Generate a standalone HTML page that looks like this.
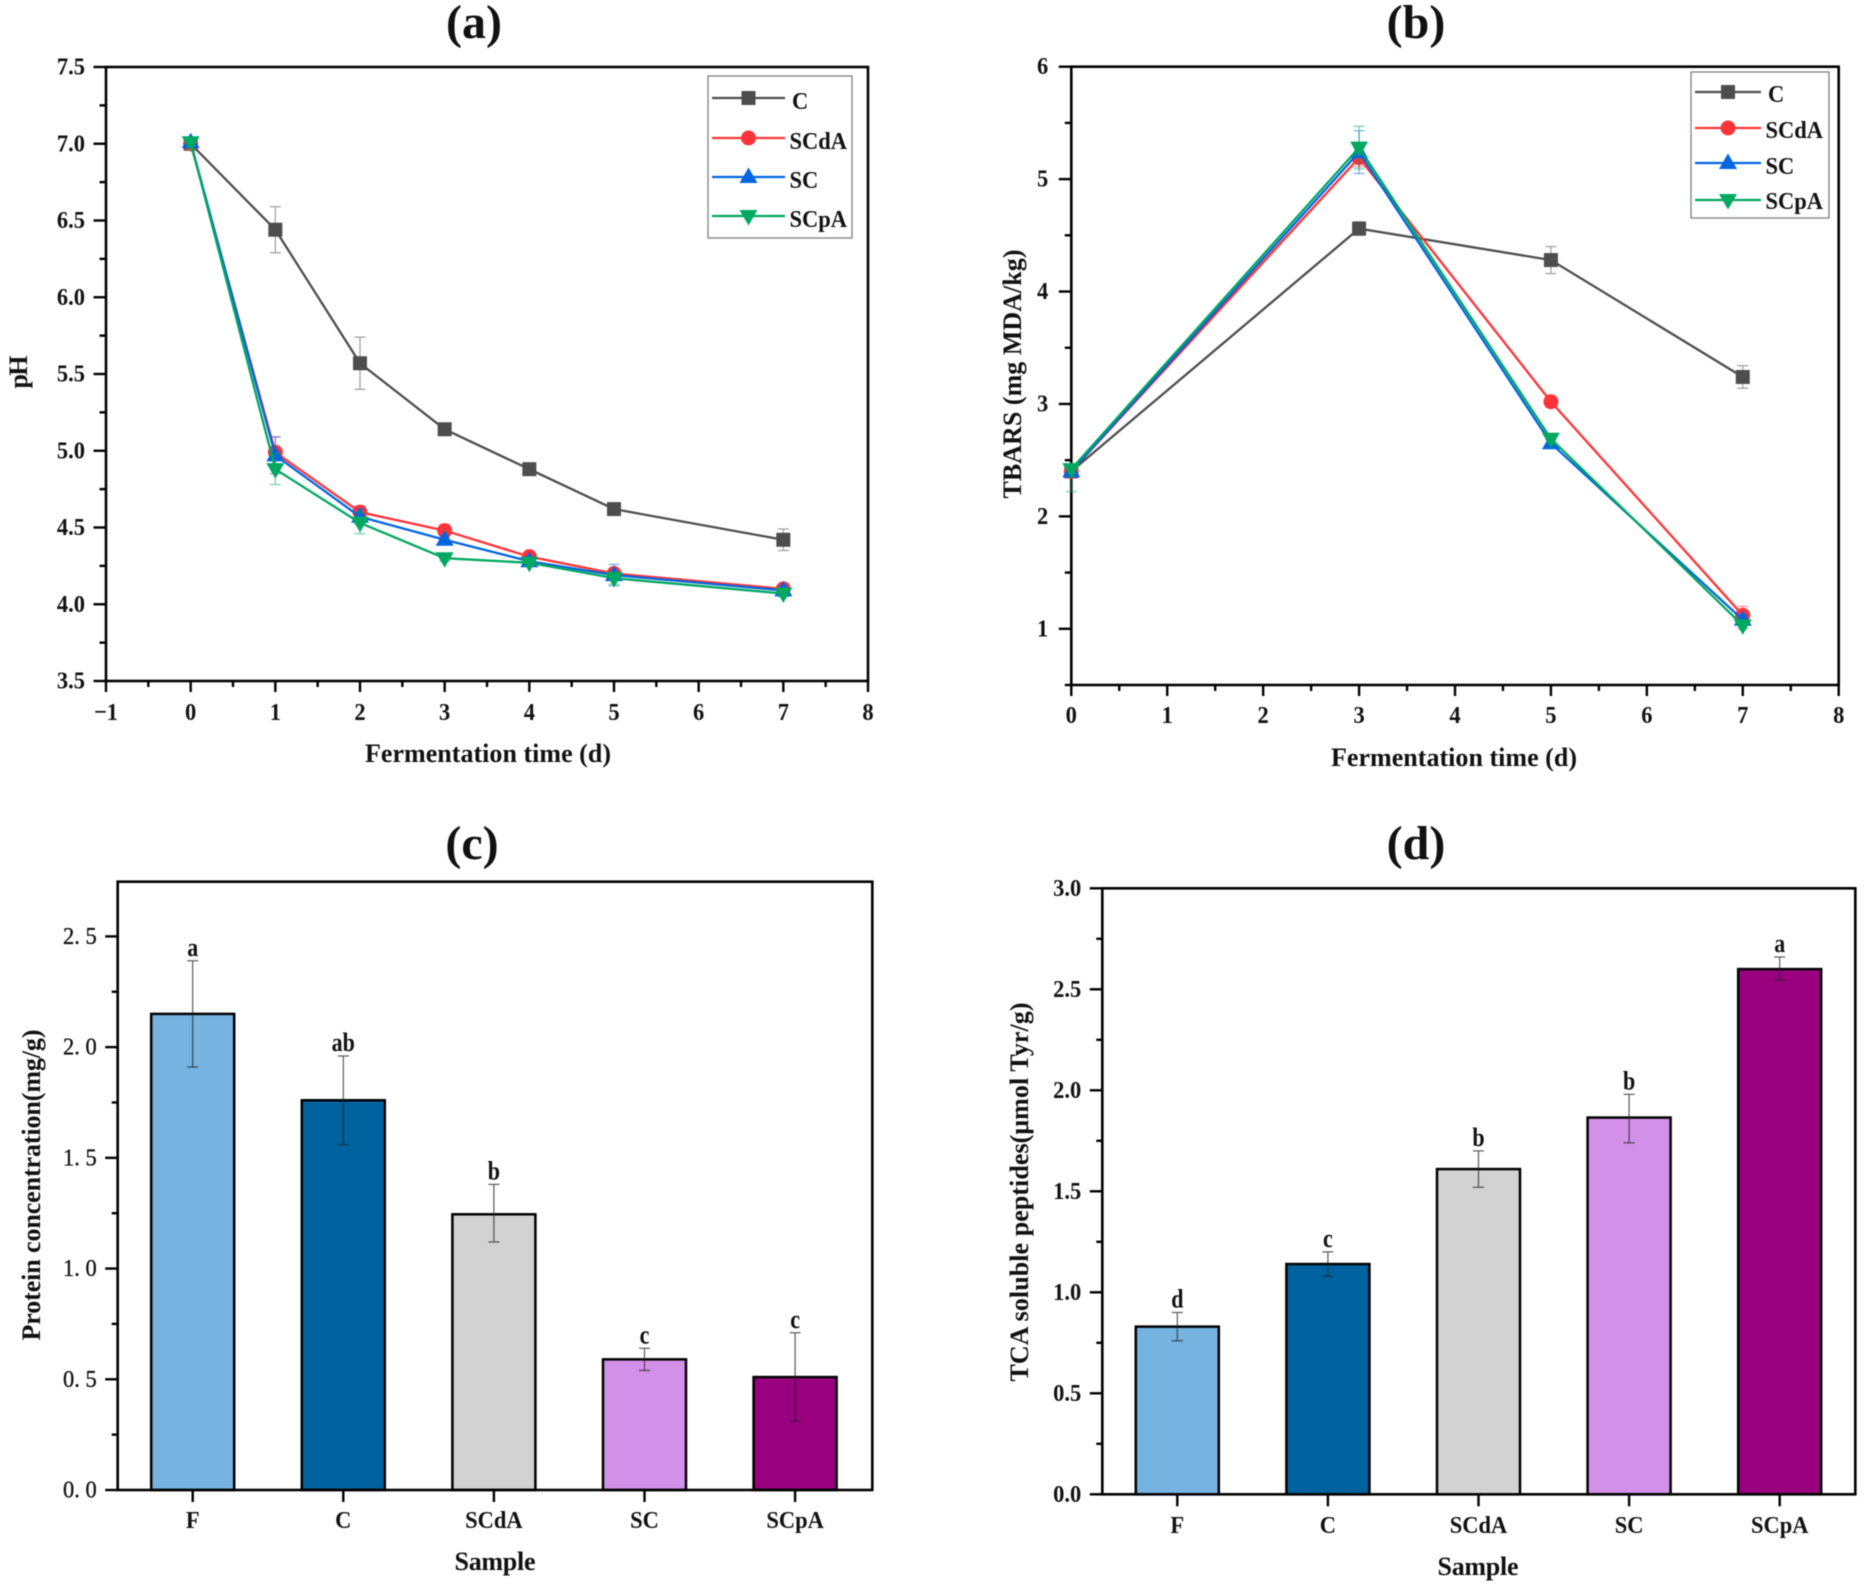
<!DOCTYPE html>
<html lang="en">
<head>
<meta charset="utf-8">
<title>Fermentation charts</title>
<style>
html,body{margin:0;padding:0;background:#fff;}
#figure{display:block;width:1867px;height:1588px;filter:blur(0.45px);}
text{font-family:"Liberation Serif",serif;font-weight:700;fill:#111;}
</style>
</head>
<body>
<svg id="figure" xmlns="http://www.w3.org/2000/svg" width="1867" height="1588" viewBox="0 0 1867 1588"></svg>
<script>
// ---------- Panel (a) data ----------
const daysA = [0, 1, 2, 3, 4, 5, 7];
const phC = [7.0, 6.44, 5.57, 5.14, 4.88, 4.62, 4.42];
const phSCdA = [7.0, 4.99, 4.6, 4.48, 4.31, 4.2, 4.1];
const phSC = [7.01, 4.97, 4.57, 4.42, 4.28, 4.19, 4.09];
const phSCpA = [7.01, 4.88, 4.53, 4.3, 4.27, 4.17, 4.07];
const phErrC = [0.02, 0.15, 0.17, 0.02, 0.02, 0.02, 0.07];
const phErrSCdA = [0.02, 0.1, 0.04, 0.04, 0.03, 0.03, 0.02];
const phErrSC = [0.03, 0.12, 0.05, 0.03, 0.03, 0.07, 0.03];
const phErrSCpA = [0.01, 0.1, 0.07, 0.02, 0.02, 0.04, 0.02];
const phXTicks = ["\u22121", "0", "1", "2", "3", "4", "5", "6", "7", "8"];
const phYTicks = ["3.5", "4.0", "4.5", "5.0", "5.5", "6.0", "6.5", "7.0", "7.5"];

// ---------- Panel (b) data ----------
const daysB = [0, 3, 5, 7];
const tbarsC = [2.4, 4.56, 4.28, 3.24];
const tbarsSCdA = [2.4, 5.19, 3.02, 1.12];
const tbarsSC = [2.4, 5.24, 2.65, 1.08];
const tbarsSCpA = [2.42, 5.28, 2.69, 1.03];
const tbarsErrC = [0.02, 0.06, 0.12, 0.1];
const tbarsErrSCdA = [0.05, 0.08, 0.05, 0.08];
const tbarsErrSC = [0.05, 0.19, 0.03, 0.04];
const tbarsErrUpSCpA = [0.02, 0.19, 0.03, 0.03];
const tbarsErrDownSCpA = [0.2, 0.19, 0.03, 0.03];
const tbarsXTicks = ["0", "1", "2", "3", "4", "5", "6", "7", "8"];
const tbarsYTicks = ["1", "2", "3", "4", "5", "6"];

// ---------- Panels (c) and (d) data ----------
const samples = ["F", "C", "SCdA", "SC", "SCpA"];
const proteinValues = [2.15, 1.76, 1.245, 0.59, 0.51];
const proteinErrUp = [0.24, 0.2, 0.135, 0.05, 0.2];
const proteinErrDown = [0.24, 0.2, 0.125, 0.05, 0.2];
const proteinLetters = ["a", "ab", "b", "c", "c"];
const proteinYTicks = ["0. 0", "0. 5", "1. 0", "1. 5", "2. 0", "2. 5"];
const tcaValues = [0.83, 1.14, 1.61, 1.865, 2.6];
const tcaErrUp = [0.07, 0.06, 0.09, 0.115, 0.06];
const tcaErrDown = [0.07, 0.06, 0.09, 0.125, 0.055];
const tcaLetters = ["d", "c", "b", "b", "a"];
const tcaYTicks = ["0.0", "0.5", "1.0", "1.5", "2.0", "2.5", "3.0"];
const barColors = ["#76b3e0", "#00639f", "#d2d2d2", "#d290e8", "#990080"];
const seriesNames = ["C", "SCdA", "SC", "SCpA"];
const seriesColors = ["#4d4d4d", "#ff3338", "#0066e0", "#00a860"];

const NS = "http://www.w3.org/2000/svg";
const root = document.getElementById("figure");

function make(tag, attrs, name, parent) {
  const el = document.createElementNS(NS, tag);
  for (const k in attrs) el.setAttribute(k, attrs[k]);
  
  
  (parent || root).appendChild(el);
  return el;
}
function line(x1, y1, x2, y2, stroke, w, name, parent, extra) {
  return make("line", Object.assign({x1, y1, x2, y2, stroke, "stroke-width": w}, extra || {}), name, parent);
}
function label(x, y, str, size, anchor, name, parent, opt) {
  opt = opt || {};
  const sy = opt.sy || 1.1;
  const attrs = {transform: "translate(" + x + "," + y + ") scale(1," + sy + ")", "font-size": size, "text-anchor": anchor};
  if (opt.len) { attrs.textLength = opt.len; attrs.lengthAdjust = "spacing"; }
  if (opt.weight) attrs.style = "font-weight:" + opt.weight + ";stroke:#111;stroke-width:0.3px";
  const t = make("text", attrs, name, parent);
  t.textContent = str;
  return t;
}
function vLabel(x, y, str, size, len, name, parent) {
  const t = make("text", {transform: "translate(" + x + "," + y + ") rotate(-90)", "font-size": size, "text-anchor": "middle", textLength: len, lengthAdjust: "spacing"}, name, parent);
  t.textContent = str;
  return t;
}
function frame(box, g) {
  make("rect", {x: box.l, y: box.t, width: box.r - box.l, height: box.b - box.t, fill: "none", stroke: "#000", "stroke-width": 2.6}, "plot-frame", g);
}
function marker(kind, x, y, color, name, parent) {
  if (kind === 0) return make("rect", {x: x - 7, y: y - 7, width: 14, height: 14, fill: color}, name, parent);
  if (kind === 1) return make("circle", {cx: x, cy: y, r: 7.5, fill: color}, name, parent);
  if (kind === 2) return make("polygon", {points: (x) + "," + (y - 9.5) + " " + (x + 9) + "," + (y + 6) + " " + (x - 9) + "," + (y + 6), fill: color}, name, parent);
  return make("polygon", {points: (x) + "," + (y + 9.5) + " " + (x + 9) + "," + (y - 6) + " " + (x - 9) + "," + (y - 6), fill: color}, name, parent);
}
function errorBar(x, yTop, yBottom, color, name, parent) {
  const g = make("g", {opacity: 0.55}, name, parent);
  line(x, yTop, x, yBottom, color, 1.2, "error-stem", g);
  line(x - 5.5, yTop, x + 5.5, yTop, color, 1.2, "error-cap-top", g);
  line(x - 5.5, yBottom, x + 5.5, yBottom, color, 1.2, "error-cap-bottom", g);
}

function linePanel(cfg) {
  const g = make("g", {}, cfg.name, root);
  const b = cfg.box;
  const xs = v => b.l + (v - cfg.xMin) / (cfg.xMax - cfg.xMin) * (b.r - b.l);
  const ys = v => b.b - (v - cfg.yMin) / (cfg.yMax - cfg.yMin) * (b.b - b.t);
  frame(b, g);
  cfg.xTicks.forEach((txt, i) => {
    const x = xs(cfg.xMin + i);
    line(x, b.b, x, b.b + 11, "#000", 2.4, "x-tick", g);
    if (i < cfg.xTicks.length - 1) line(x + (xs(1) - xs(0)) / 2, b.b, x + (xs(1) - xs(0)) / 2, b.b + 6, "#000", 2.4, "x-minor-tick", g);
    label(x, cfg.xLabelY, txt, 22.5, "middle", "x-tick-label", g);
  });
  cfg.yTicks.forEach((txt, i) => {
    const v = parseFloat(txt);
    const y = ys(v);
    line(b.l - 12.5, y, b.l, y, "#000", 2.4, "y-tick", g);
    label(b.l - cfg.yLabelGap, y + 7.5, txt, 22.5, "end", "y-tick-label", g);
    const mv = v - cfg.yStep / 2;
    if (mv >= cfg.yMin - 1e-6) line(b.l - 6.5, ys(mv), b.l, ys(mv), "#000", 2.4, "y-minor-tick", g);
  });
  cfg.series.forEach((s, k) => {
    const sg = make("g", {}, "series-" + seriesNames[k], g);
    const color = seriesColors[k];
    cfg.days.forEach((d, i) => errorBar(xs(d), ys(s.values[i] + s.up[i]), ys(s.values[i] - s.down[i]), color, "error-bar", sg));
    const pts = cfg.days.map((d, i) => xs(d) + "," + ys(s.values[i])).join(" ");
    make("polyline", {points: pts, fill: "none", stroke: color, "stroke-width": 2.3}, "series-line", sg);
    cfg.days.forEach((d, i) => marker(k, xs(d), ys(s.values[i]), color, "data-point", sg));
  });
  const L = cfg.legend;
  const lg = make("g", {}, "legend", g);
  make("rect", {x: L.x1, y: L.y1, width: L.x2 - L.x1, height: L.y2 - L.y1, fill: "#fff", stroke: "#808080", "stroke-width": 1.3}, "legend-box", lg);
  seriesNames.forEach((n, k) => {
    const eg = make("g", {}, "legend-entry", lg);
    line(L.lineX1, L.rows[k], L.lineX2, L.rows[k], seriesColors[k], 2.3, "legend-line", eg);
    marker(k, (L.lineX1 + L.lineX2) / 2, L.rows[k], seriesColors[k], "legend-marker", eg);
    label(L.textX + (k === 0 ? 2 : -0.5), L.base[k], n, 22.5, "start", "legend-label", eg);
  });
  label(cfg.titleX, 38, cfg.title, 48, "middle", "panel-title", g, {sy: 1});
  label(cfg.xTitleX, cfg.xTitleY, "Fermentation time (d)", 26, "middle", "x-axis-title", g, {len: 246, sy: 1});
  vLabel(cfg.yTitleX, cfg.yTitleY, cfg.yTitle, 26, cfg.yTitleLen, "y-axis-title", g);
}

function barPanel(cfg) {
  const g = make("g", {}, cfg.name, root);
  const b = cfg.box;
  const ys = v => b.b - v / cfg.yMax * (b.b - b.t);
  const xc = i => cfg.first + i * cfg.step;
  samples.forEach((s, i) => {
    const x = xc(i);
    make("rect", {x: x - 41.5, y: ys(cfg.values[i]), width: 83, height: b.b - ys(cfg.values[i]), fill: barColors[i], stroke: "#000", "stroke-width": 2.5}, "bar-" + s, g);
    const eg = make("g", {opacity: 0.75}, "error-bar-" + s, g);
    const top = ys(cfg.values[i] + cfg.up[i]);
    const bot = ys(cfg.values[i] - cfg.down[i]);
    line(x, top, x, bot, "#222", 1.2, "error-stem", eg);
    line(x - 5.5, top, x + 5.5, top, "#222", 1.2, "error-cap-top", eg);
    line(x - 5.5, bot, x + 5.5, bot, "#222", 1.2, "error-cap-bottom", eg);
    label(x, top - 5, cfg.letters[i], 22, "middle", "significance-letter", g, {sy: 1.2});
    line(x, b.b, x, b.b + 12, "#000", 2.4, "x-tick", g);
    label(x, cfg.xLabelY, s, 22.5, "middle", "x-tick-label", g);
  });
  frame(b, g);
  cfg.yTicks.forEach(txt => {
    const v = parseFloat(txt.replace(" ", ""));
    const y = ys(v);
    line(b.l - 12.5, y, b.l, y, "#000", 2.4, "y-tick", g);
    label(b.l - cfg.yLabelGap, y + 7.5, txt, 22.5, "end", "y-tick-label", g, cfg.tickOpt);
    if (v + 0.25 < cfg.yMax) line(b.l - 6, ys(v + 0.25), b.l, ys(v + 0.25), "#000", 2.4, "y-minor-tick", g);
  });
  label(cfg.titleX, cfg.titleY, cfg.title, 48, "middle", "panel-title", g, {sy: 1});
  label(cfg.xTitleX, cfg.xTitleY, "Sample", 26, "middle", "x-axis-title", g, {len: 81, sy: 1});
  vLabel(cfg.yTitleX, cfg.yTitleY, cfg.yTitle, 26, cfg.yTitleLen, "y-axis-title", g);
}

linePanel({
  name: "panel-a-ph", title: "(a)", titleX: 474,
  box: {l: 106, r: 868, t: 67, b: 681},
  xMin: -1, xMax: 8, yMin: 3.5, yMax: 7.5, yStep: 0.5,
  xTicks: phXTicks, yTicks: phYTicks, xLabelY: 720, yLabelGap: 21,
  days: daysA,
  series: [
    {values: phC, up: phErrC, down: phErrC},
    {values: phSCdA, up: phErrSCdA, down: phErrSCdA},
    {values: phSC, up: phErrSC, down: phErrSC},
    {values: phSCpA, up: phErrSCpA, down: phErrSCpA}
  ],
  legend: {x1: 708, x2: 852, y1: 76, y2: 238, lineX1: 712, lineX2: 785, textX: 790, rows: [98, 138, 177, 216], base: [109, 149, 188, 227]},
  xTitleX: 488, xTitleY: 762,
  yTitle: "pH", yTitleX: 27, yTitleY: 372, yTitleLen: 33
});

linePanel({
  name: "panel-b-tbars", title: "(b)", titleX: 1416,
  box: {l: 1071.3, r: 1838.7, t: 66.7, b: 685},
  xMin: 0, xMax: 8, yMin: 0.5, yMax: 6, yStep: 1,
  xTicks: tbarsXTicks, yTicks: tbarsYTicks, xLabelY: 723, yLabelGap: 23,
  days: daysB,
  series: [
    {values: tbarsC, up: tbarsErrC, down: tbarsErrC},
    {values: tbarsSCdA, up: tbarsErrSCdA, down: tbarsErrSCdA},
    {values: tbarsSC, up: tbarsErrSC, down: tbarsErrSC},
    {values: tbarsSCpA, up: tbarsErrUpSCpA, down: tbarsErrDownSCpA}
  ],
  legend: {x1: 1691, x2: 1829, y1: 72, y2: 218, lineX1: 1695, lineX2: 1761, textX: 1766, rows: [92, 128, 163, 200], base: [102, 138, 174, 209]},
  xTitleX: 1454, xTitleY: 766,
  yTitle: "TBARS (mg MDA/kg)", yTitleX: 1021, yTitleY: 374, yTitleLen: 249
});

barPanel({
  name: "panel-c-protein", title: "(c)", titleX: 472, titleY: 859,
  box: {l: 117.7, r: 872.3, t: 881.7, b: 1490},
  yMax: 2.747, first: 192.7, step: 150.6,
  values: proteinValues, up: proteinErrUp, down: proteinErrDown, letters: proteinLetters,
  yTicks: proteinYTicks, yLabelGap: 21, tickOpt: {weight: 400},
  xLabelY: 1528, xTitleX: 495, xTitleY: 1570,
  yTitle: "Protein concentration(mg/g)", yTitleX: 40, yTitleY: 1185, yTitleLen: 311
});

barPanel({
  name: "panel-d-tca", title: "(d)", titleX: 1416, titleY: 859,
  box: {l: 1102.3, r: 1855.3, t: 888.3, b: 1494.3},
  yMax: 3, first: 1177.3, step: 150.6,
  values: tcaValues, up: tcaErrUp, down: tcaErrDown, letters: tcaLetters,
  yTicks: tcaYTicks, yLabelGap: 21,
  xLabelY: 1533, xTitleX: 1478, xTitleY: 1575,
  yTitle: "TCA soluble peptides(\u03bcmol Tyr/g)", yTitleX: 1028, yTitleY: 1192, yTitleLen: 379
});
</script>
</body>
</html>
